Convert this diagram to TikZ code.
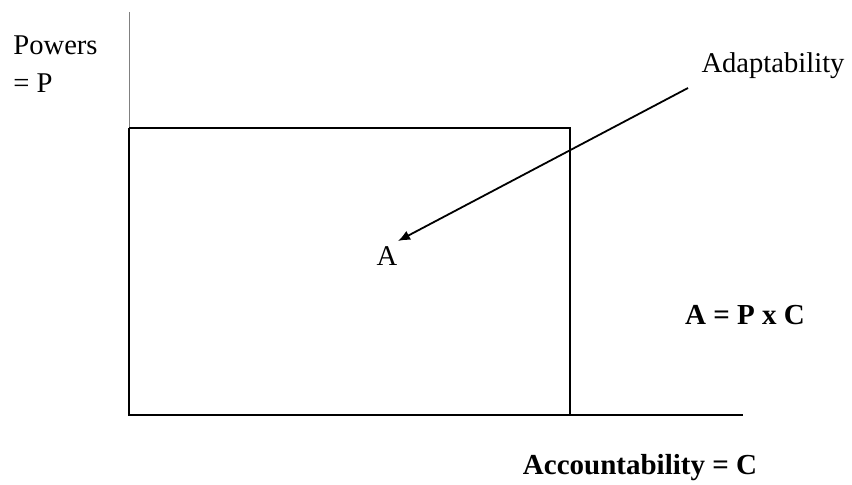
\documentclass[tikz,border=0pt]{standalone}
\usepackage{fontspec}
\setmainfont{Liberation Serif}
\usepackage{tikz}
\usetikzlibrary{arrows.meta, positioning}

\begin{document}
\begin{tikzpicture}[
    x=0.5pt, y=-0.5pt,
    every node/.style={font=\fontsize{14.3}{19}\selectfont, inner sep=0pt},
    label/.style={align=left},
    formula/.style={font=\fontsize{14.5}{19}\selectfont\bfseries},
    frame/.style={draw=black, line width=0.9pt},
    axis/.style={draw=gray, line width=0.4pt},
    pointer/.style={draw=black, line width=0.9pt, -{Latex[length=6pt, width=5pt]}}
]
\useasboundingbox (0,0) rectangle (852,485);
% corners of the box
\coordinate (top) at (129,12);
\coordinate (tl) at (129,128);
\coordinate (tr) at (570,128);
\coordinate (bl) at (129,415);
\coordinate (br) at (570,415);
\coordinate (xend) at (743,415);
% axes and box
\draw[axis] (top) -- (tl);
\draw[frame] (tl) -- (tr) -- (br);
\draw[frame] (tl) -- (bl) -- (xend);
% labels
\node[label, anchor=north west] (powers) at (13,35) {Powers\\= P};
\node (adapt) at (773,66) {Adaptability};
\node (a) at (387,256) {A};
\coordinate (tail) at (688,88);
\coordinate (tip) at (398,241);
\draw[pointer] (tail) -- (tip);
\node[formula] (eq) at (745,315) {A = P x C};
\node[formula] (acc) at (640,468) {Accountability = C};
\end{tikzpicture}
\end{document}
